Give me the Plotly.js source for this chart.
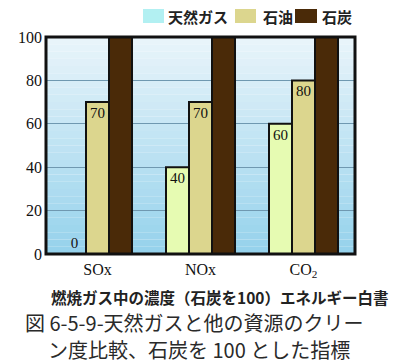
<!DOCTYPE html>
<html><head><meta charset="utf-8">
<script src="https://cdn.plot.ly/plotly-3.0.1.min.js"></script>
<style>html,body{margin:0;padding:0;background:#fff;}#chart{width:393px;height:364px;}</style>
</head><body><div id="chart"></div>
<script>
const categories = ['SOx', 'NOx', 'CO<sub>2</sub>'];
const seriesNames = ['天然ガス', '石油', '石炭'];
const gasValues = [0, 40, 60];
const oilValues = [70, 70, 80];
const coalValues = [100, 100, 100];
const yTicks = [0, 20, 40, 60, 80, 100];
const legendColors = ['#b2f0f2', '#dcd68e', '#4a2a08'];
const barColors = ['#e6fbb2', '#dcd68e', '#4a2a08'];

const serif = 'Liberation Serif, Times New Roman, serif';
const jp = 'Noto Sans CJK JP, sans-serif';

const traces = [
  {type:'bar', x:categories, y:gasValues, name:seriesNames[0],
   marker:{color:barColors[0], line:{color:'#111', width:2}},
   text:gasValues.map(String), textposition:gasValues.map(v=>v===0?'outside':'inside'),
   insidetextanchor:'end', textangle:0, cliponaxis:false,
   textfont:{family:serif, size:15, color:'#111'}, showlegend:false},
  {type:'bar', x:categories, y:oilValues, name:seriesNames[1],
   marker:{color:barColors[1], line:{color:'#111', width:2}},
   text:oilValues.map(String), textposition:'inside', insidetextanchor:'end', textangle:0,
   textfont:{family:serif, size:15, color:'#111'}, showlegend:false},
  {type:'bar', x:categories, y:coalValues, name:seriesNames[2],
   marker:{color:barColors[2], line:{color:'#111', width:2}},
   showlegend:false}
];

// background gradient bands (light top to blue bottom)
const shapes = [];
const nb = 30;
for (let i = 0; i < nb; i++) {
  const t = i / (nb - 1);
  const c1 = [232, 244, 250], c2 = [150, 210, 236];
  const c = c1.map((a, k) => Math.round(a + (c2[k] - a) * t));
  shapes.push({type:'rect', xref:'paper', yref:'paper', x0:0, x1:1,
    y0:1 - (i + 1) / nb, y1:1 - i / nb, layer:'below',
    fillcolor:`rgb(${c[0]},${c[1]},${c[2]})`, line:{width:0}});
}
// custom legend boxes
const legendX = [[143,164],[235,256],[295,317]];
const W = 393, H = 364, L = 46, R = 38, T = 37, B = 110;
const px = x => (x - L) / (W - L - R);
const py = y => (H - B - y) / (H - T - B);
legendX.forEach((lx, i) => {
  shapes.push({type:'rect', xref:'paper', yref:'paper', x0:px(lx[0]), x1:px(lx[1]),
    y0:py(23), y1:py(9), fillcolor:legendColors[i], line:{width:0}, layer:'above'});
});
// plot frame
shapes.push({type:'rect', xref:'paper', yref:'paper', x0:0, x1:1, y0:0, y1:1,
  line:{color:'#111', width:3}, layer:'above'});

const legendTextX = [166, 261, 320];
const annotations = seriesNames.map((n, i) => ({
  xref:'paper', yref:'paper', x:px(legendTextX[i]), y:py(16), xanchor:'left', yanchor:'middle',
  text:'<b>' + n + '</b>', showarrow:false, font:{family:jp, size:15, color:'#222'}
}));
annotations.push({xref:'paper', yref:'paper', x:px(219), y:py(297), xanchor:'center', yanchor:'middle',
  text:'<b>燃焼ガス中の濃度（石炭を100）エネルギー白書</b>', showarrow:false,
  font:{family:jp, size:15.5, color:'#222'}});
annotations.push({xref:'paper', yref:'paper', x:px(194), y:py(322), xanchor:'center', yanchor:'middle',
  text:'図 6-5-9-天然ガスと他の資源のクリー', showarrow:false,
  font:{family:jp, size:20, color:'#2a2a2a'}});
annotations.push({xref:'paper', yref:'paper', x:px(199), y:py(349), xanchor:'center', yanchor:'middle',
  text:'ン度比較、石炭を 100 とした指標', showarrow:false,
  font:{family:jp, size:20, color:'#2a2a2a'}});

const layout = {
  width:W, height:H, margin:{l:L, r:R, t:T, b:B},
  paper_bgcolor:'#fff', plot_bgcolor:'rgba(0,0,0,0)',
  barmode:'group', bargap:0.33, bargroupgap:0,
  showlegend:false,
  xaxis:{type:'category', showgrid:false, zeroline:false, showline:false, ticks:'',
    tickfont:{family:serif, size:16, color:'#111'}, ticklabelstandoff:4},
  yaxis:{range:[0,100], tickvals:yTicks, ticktext:yTicks.map(String), showgrid:true,
    gridcolor:'#6f98b0', gridwidth:1, zeroline:false, showline:false, ticks:'',
    tickfont:{family:serif, size:16, color:'#111'}, ticklabelstandoff:3},
  shapes:shapes, annotations:annotations
};
Plotly.newPlot('chart', traces, layout, {displayModeBar:false, staticPlot:true});
</script></body></html>
